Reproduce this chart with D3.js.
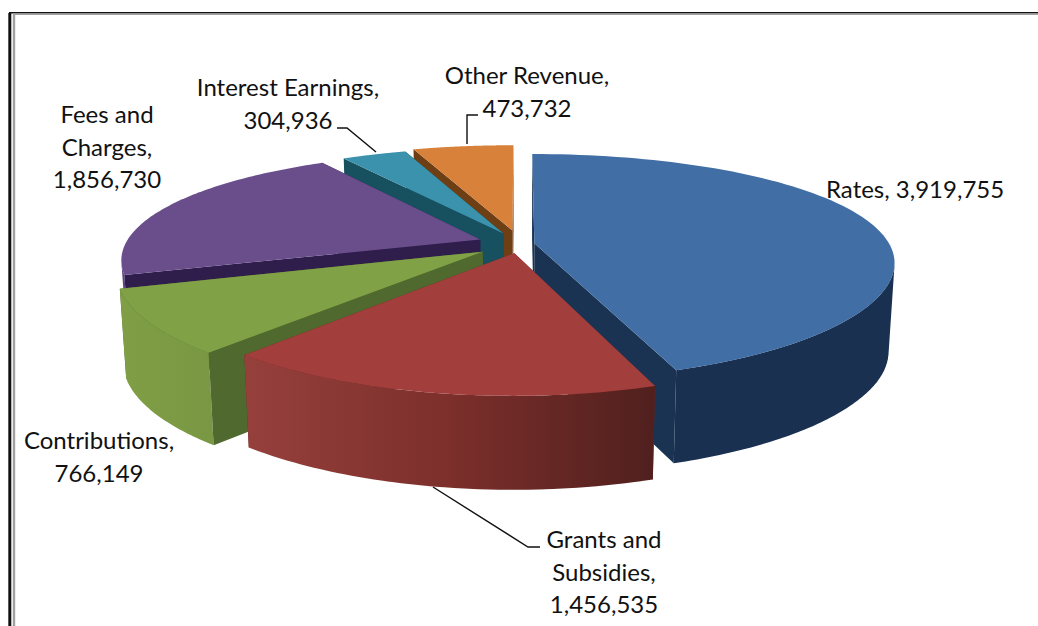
<!DOCTYPE html>
<html><head><meta charset="utf-8">
<script src="https://cdn.jsdelivr.net/npm/d3@7/dist/d3.min.js"></script>
<style>html,body{margin:0;padding:0;background:#fff;overflow:hidden}svg{display:block}text{font-family:Lato,"Open Sans",sans-serif;font-size:24px;fill:#111}</style>
</head><body><svg id="c" width="1038" height="626"></svg>
<script>
const categories = ["Rates","Grants and Subsidies","Contributions","Fees and Charges","Interest Earnings","Other Revenue"];
const values = [3919755,1456535,766149,1856730,304936,473732];
const labelLines = [["Rates, 3,919,755"],["Grants and","Subsidies,","1,456,535"],["Contributions,","766,149"],["Fees and","Charges,","1,856,730"],["Interest Earnings,","304,936"],["Other Revenue,","473,732"]];

// Layout and styling (not data)
const view = {cx:520, cy:244, R:355, tilt:0.305, perspX:0.17, perspY:0.21, depth:88, taper:0.984};
const explode = [0.041,0.085,0.125,0.12,0.11,0.13];
const paint = [
 {top:"#416fa5", wall:"#1a3352", rim:["#1f4268","#1a3050","#1a3050"]},
 {top:"#a23f3d", wall:"#6a2523", rim:["#96403c","#7c2f2b","#50201e"]},
 {top:"#81a146", wall:"#50692e", rim:["#7f9e45","#7d9b44","#7a9843"]},
 {top:"#6a4e8c", wall:"#2f1e4c", rim:["#5d4480","#5d4480","#5d4480"]},
 {top:"#3a92ad", wall:"#17505f", rim:["#17505f","#17505f","#17505f"]},
 {top:"#d8813a", wall:"#6e3e14", rim:["#6e3e14","#6e3e14","#6e3e14"]}
];
const drawOrder = [5,4,3,2,0,1];
const labelAnchors = [
 {x:826,y:198,a:"start"},{x:604,y:548,a:"middle"},{x:99,y:449,a:"middle"},
 {x:107,y:123,a:"middle"},{x:288,y:96,a:"middle"},{x:527,y:84,a:"middle"}];
const leaders = [null,[[433,487],[528,547],[540,547]],null,null,[[337,128],[347,128],[376,152]],[[478,115],[467,115],[467,144]]];

const svg = d3.select("#c");
const defs = svg.append("defs");
const arcs = d3.pie().sort(null)(values);
const line = d3.line();

function project(i, angle, r, lower){
  const m = (arcs[i].startAngle+arcs[i].endAngle)/2, e = explode[i];
  const X = r*Math.sin(angle)+e*Math.sin(m), Z = r*Math.cos(angle)+e*Math.cos(m);
  const sx = 1/(1+view.perspX*Z), sy = 1/(1+view.perspY*Z);
  const k = lower ? view.taper : 1;
  return [view.cx+view.R*X*sx*k, view.cy-view.R*view.tilt*Z*sy+(lower?view.depth*Math.pow(sy,0.25):0)];
}
const STEPS = 90;
function rimAngles(a0,a1){ return d3.range(0,STEPS+1).map(t=>a0+(a1-a0)*t/STEPS); }

// frame
svg.append("path").attr("d","M9.8,626V12.8H1038").attr("fill","none").attr("stroke","#111").attr("stroke-width",1.6);
svg.append("path").attr("d","M9.8,626V13").attr("fill","none").attr("stroke","#111").attr("stroke-width",3);
svg.append("path").attr("d","M14,626V14.2H1038").attr("fill","none").attr("stroke","#a0a0a0").attr("stroke-width",1.6);
svg.append("path").attr("d","M14,626V14").attr("fill","none").attr("stroke","#a0a0a0").attr("stroke-width",2.4);

drawOrder.forEach(i=>{
  const {startAngle:a0,endAngle:a1} = arcs[i], p = paint[i];
  const g = svg.append("g");
  const wallPts = a=>[project(i,a,0,false),project(i,a,1,false),project(i,a,1,true),project(i,a,0,true)];
  const startFront = d3.polygonArea(wallPts(a0))>0, endFront = d3.polygonArea(wallPts(a1))<0;
  const wall = a=>g.append("path").attr("d",line(wallPts(a))+"Z").attr("fill",p.wall);
  if(!startFront) wall(a0);
  if(!endFront) wall(a1);

  const angs = rimAngles(a0,a1);
  const upper = angs.map(a=>project(i,a,1,false)), lower = angs.map(a=>project(i,a,1,true));
  const xs = upper.map(d=>d[0]), gid="rim"+i;
  const lg = defs.append("linearGradient").attr("id",gid).attr("gradientUnits","userSpaceOnUse")
    .attr("x1",d3.min(xs)).attr("x2",d3.max(xs)).attr("y1",0).attr("y2",0);
  p.rim.forEach((c,k)=>lg.append("stop").attr("offset",(i===0?[0,0.12,1]:[0,0.5,1])[k]).attr("stop-color",c));
  let rimPath="";
  for(let k=0;k<STEPS;k++){
    const q=[upper[k],upper[k+1],lower[k+1],lower[k]];
    if(d3.polygonArea(q)>0){
      const n=Math.min(k+2,STEPS);
      rimPath+=line([upper[k],upper[n],lower[n],lower[k]])+"Z";
    }
  }
  if(rimPath) g.append("path").attr("d",rimPath).attr("fill",`url(#${gid})`);

  if(startFront) wall(a0);
  if(endFront) wall(a1);
  g.append("path").attr("d",line([project(i,a0,0,false)].concat(upper))+"Z").attr("fill",p.top);
});

leaders.forEach(l=>{ if(l) svg.append("path").attr("d",line(l)).attr("fill","none").attr("stroke","#111").attr("stroke-width",1.4); });
labelLines.forEach((ls,i)=>{
  const t = svg.append("text").attr("text-anchor",labelAnchors[i].a);
  ls.forEach((s,k)=>t.append("tspan").attr("x",labelAnchors[i].x).attr("y",labelAnchors[i].y+k*32.7).text(s));
});
</script></body></html>
